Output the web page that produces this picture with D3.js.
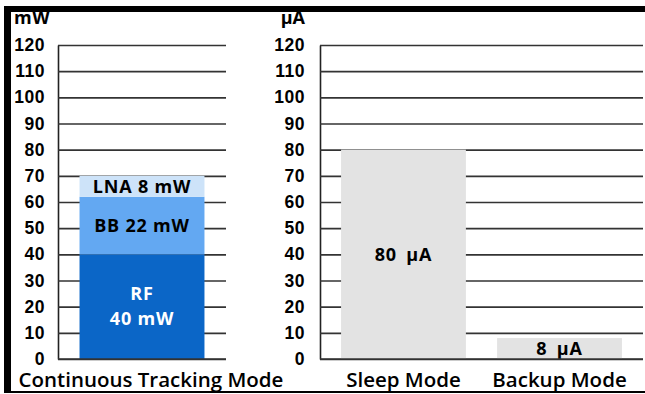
<!DOCTYPE html>
<html>
<head>
<meta charset="utf-8">
<script src="https://cdn.jsdelivr.net/npm/d3@7"></script>
<style>
  body { margin: 0; background: #fff; }
  svg { display: block; font-family: "Open Sans", sans-serif; }
</style>
</head>
<body>
<div id="chart"></div>
<script>
// Data
const powerModes = ["Continuous Tracking Mode"];
const powerParts = ["RF", "BB", "LNA"];
const powerValues = [40, 22, 8];           // mW
const powerLabels = [["RF", "40 mW"], ["BB 22 mW"], ["LNA 8 mW"]];
const currentModes = ["Sleep Mode", "Backup Mode"];
const currentValues = [80, 8];             // µA
const currentLabels = ["80 µA", "8 µA"];
const tickValues = [0, 10, 20, 30, 40, 50, 60, 70, 80, 90, 100, 110, 120];

const width = 645, height = 394;
const partColor = d3.scaleOrdinal().domain(powerParts).range(["#0b66c7", "#63a8f2", "#cde3f9"]);

const svg = d3.select("#chart").append("svg")
    .attr("width", width)
    .attr("height", height);

// scales
const yL = d3.scaleLinear().domain([0, 120]).range([359, 45]);
const yR = d3.scaleLinear().domain([0, 120]).range([359, 45]);
const xL = d3.scaleBand().domain(powerModes).range([58, 226]).paddingInner(0.147).paddingOuter(0.147);
const xR = d3.scaleBand().domain(currentModes).range([320, 643]).paddingInner(0.2).paddingOuter(0.135);

// axes with gridlines
function drawAxis(x0, x1, y, pad) {
    const g = svg.append("g")
        .attr("transform", `translate(${x0},0)`)
        .call(d3.axisLeft(y).tickValues(tickValues).tickSize(-(x1 - x0)).tickSizeOuter(0).tickPadding(pad));
    g.select(".domain").attr("stroke", "#222").attr("stroke-width", 1.6);
    g.selectAll(".tick line").attr("stroke", "#333").attr("stroke-width", 1.6);
    g.selectAll(".tick text")
        .attr("fill", "#000")
        .style("font-size", "17.5px")
        .style("font-weight", 700)
        .style("letter-spacing", "0.5px");
    return g;
}
drawAxis(58, 226, yL, 13);
drawAxis(320, 643, yR, 15);

// unit titles
svg.append("text").attr("x", 14).attr("y", 24).text("mW")
    .style("font-size", "18px").style("font-weight", 700).style("letter-spacing", "0.5px");
svg.append("text").attr("x", 305).attr("y", 24).attr("text-anchor", "end").text("µA")
    .style("font-size", "18px").style("font-weight", 700);

// stacked bar (left)
const row = {};
powerParts.forEach((p, i) => row[p] = powerValues[i]);
row.mode = powerModes[0];
const stacked = d3.stack().keys(powerParts)([row]);

stacked.forEach((layer, i) => {
    const d = layer[0];
    svg.append("rect")
        .attr("x", xL(d.data.mode))
        .attr("y", yL(d[1]))
        .attr("width", xL.bandwidth())
        .attr("height", yL(d[0]) - yL(d[1]))
        .attr("fill", partColor(layer.key));

    const lines = powerLabels[i];
    const cy = yL((d[0] + d[1]) / 2);
    const t = svg.append("text")
        .attr("x", xL(d.data.mode) + xL.bandwidth() / 2)
        .attr("text-anchor", "middle")
        .attr("fill", layer.key === "RF" ? "#fff" : "#000")
        .style("font-size", "18px")
        .style("font-weight", 700)
        .style("letter-spacing", "0.8px");
    lines.forEach((ln, j) => {
        t.append("tspan")
            .attr("x", xL(d.data.mode) + xL.bandwidth() / 2)
            .attr("y", cy + (j - (lines.length - 1) / 2) * 25)
            .attr("dy", "0.35em")
            .text(ln);
    });
});

// current bars (right)
svg.selectAll(".cur")
    .data(currentModes)
    .enter().append("rect")
    .attr("x", d => xR(d))
    .attr("y", (d, i) => yR(currentValues[i]))
    .attr("width", xR.bandwidth())
    .attr("height", (d, i) => yR(0) - yR(currentValues[i]))
    .attr("fill", "#e3e3e3");

svg.selectAll(".curlabel")
    .data(currentModes)
    .enter().append("text")
    .attr("x", d => xR(d) + xR.bandwidth() / 2)
    .attr("y", (d, i) => yR(currentValues[i] / 2))
    .attr("dy", "0.35em")
    .attr("text-anchor", "middle")
    .style("font-size", "18px")
    .style("font-weight", 700)
    .style("word-spacing", "4px")
    .style("letter-spacing", "0.8px")
    .text((d, i) => currentLabels[i]);

// baselines on top
svg.append("line").attr("x1", 58).attr("x2", 226).attr("y1", yL(0)).attr("y2", yL(0))
    .attr("stroke", "#333").attr("stroke-width", 1.6);
svg.append("line").attr("x1", 320).attr("x2", 643).attr("y1", yR(0)).attr("y2", yR(0))
    .attr("stroke", "#333").attr("stroke-width", 1.6);

// category labels
svg.append("text").attr("x", 151).attr("y", 387).attr("text-anchor", "middle")
    .style("font-size", "20.5px").style("font-weight", 600).text(powerModes[0]);
svg.selectAll(".cat")
    .data(currentModes)
    .enter().append("text")
    .attr("x", d => xR(d) + xR.bandwidth() / 2)
    .attr("y", 387)
    .attr("text-anchor", "middle")
    .style("font-size", "20.5px")
    .style("font-weight", 600)
    .text(d => d);

// frame
svg.append("rect").attr("x", 4).attr("y", 6).attr("width", width - 4).attr("height", 6).attr("fill", "#000");
svg.append("rect").attr("x", 4).attr("y", 6).attr("width", 7).attr("height", 387).attr("fill", "#000");
svg.append("rect").attr("x", 4).attr("y", 391).attr("width", width - 4).attr("height", 2).attr("fill", "#000");
</script>
</body>
</html>
